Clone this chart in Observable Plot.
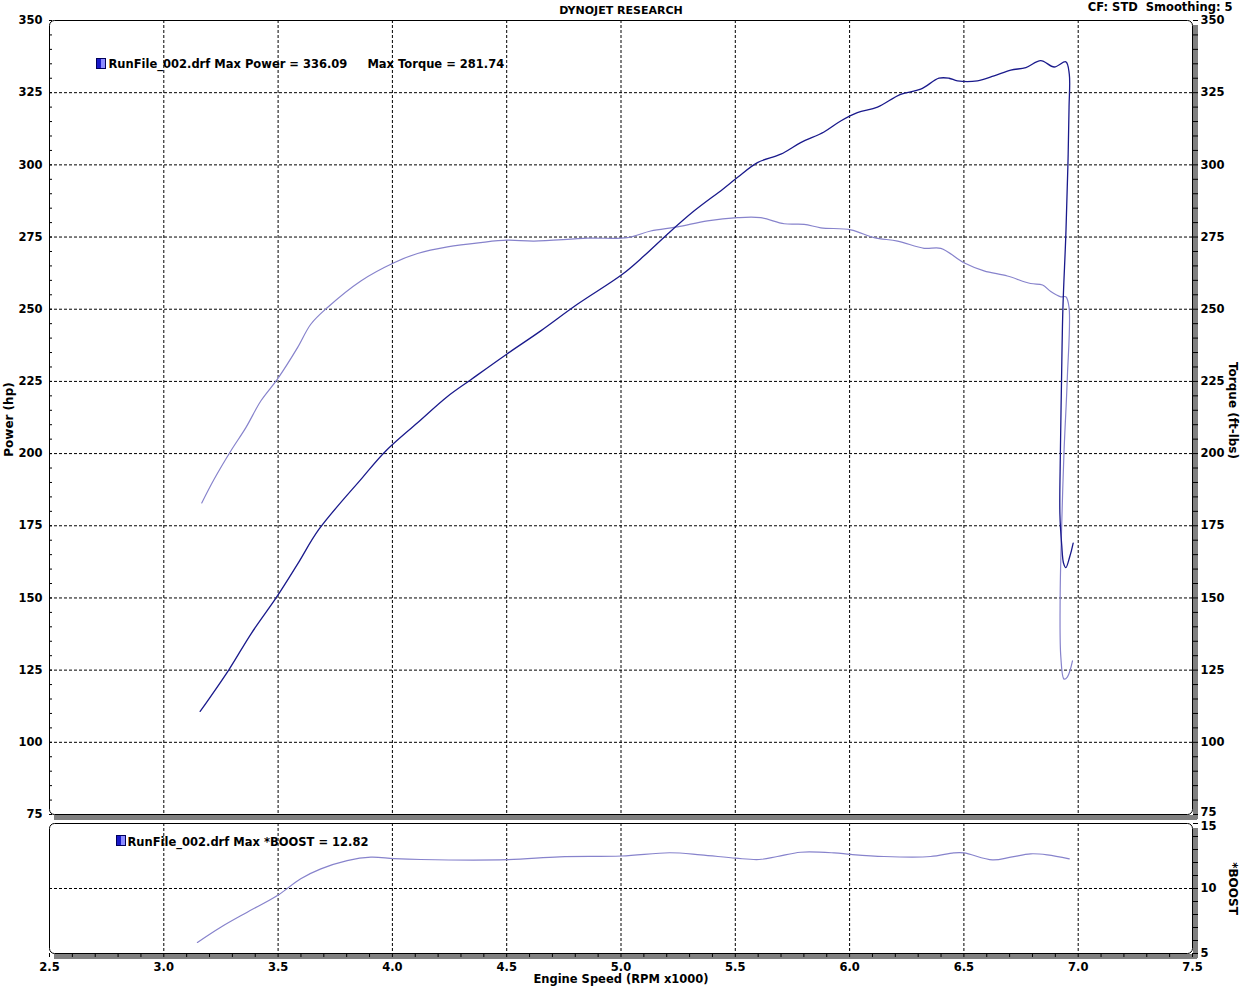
<!DOCTYPE html>
<html>
<head>
<meta charset="utf-8">
<script src="https://cdn.jsdelivr.net/npm/d3@7"></script>
<script src="https://cdn.jsdelivr.net/npm/@observablehq/plot@0.6"></script>
<style>
  body { margin: 0; background: #fff; }
  #wrap { position: relative; width: 1241px; height: 986px; overflow: hidden; }
  #top, #bot { position: absolute; left: 0; }
  #top { top: 0; }
  #bot { top: 818px; }
  svg text { white-space: pre; }
  .icon { position: absolute; width: 8px; height: 9px; border: 1px solid #00005a;
          background: linear-gradient(to right, #1818c8 50%, #8c8cff 50%); }
</style>
</head>
<body>
<div id="wrap">
  <div id="top"></div>
  <div id="bot"></div>
  <div class="icon" style="left:96px;top:58px;"></div>
  <div class="icon" style="left:116px;top:835px;"></div>
</div>
<script>
// ---------- data ----------
const rpmTicks = [2.5, 3.0, 3.5, 4.0, 4.5, 5.0, 5.5, 6.0, 6.5, 7.0, 7.5];
const rpmGrid = [3.0, 3.5, 4.0, 4.5, 5.0, 5.5, 6.0, 6.5, 7.0];
const rpmMinor = d3.range(25, 76).map(d => d / 10);
const powerTicks = [75, 100, 125, 150, 175, 200, 225, 250, 275, 300, 325, 350];
const powerGrid = [100, 125, 150, 175, 200, 225, 250, 275, 300, 325];
const powerMinor = d3.range(75, 351, 5);
const boostTicks = [5, 10, 15];
const boostGrid = [10];
const boostMinor = d3.range(5, 16, 1);

const powerRpm = [3.159, 3.286, 3.381, 3.497, 3.585, 3.679, 3.869, 3.971, 4.110, 4.241, 4.343, 4.503,
  4.649, 4.809, 5.006, 5.101, 5.203, 5.319, 5.444, 5.509, 5.597, 5.699, 5.786, 5.888, 5.961, 6.034,
  6.122, 6.223, 6.311, 6.391, 6.435, 6.472, 6.559, 6.632, 6.705, 6.771, 6.836, 6.895, 6.946, 6.961,
  6.960, 6.955, 6.946, 6.933, 6.927, 6.922, 6.920, 6.928, 6.936, 6.946, 6.962, 6.978];
const powerHp = [110.7, 125.3, 137.5, 150.7, 161.7, 173.8, 191.7, 200.9, 210.7, 219.8, 225.6, 234.6,
  242.5, 251.7, 262.1, 268.5, 276.0, 284.0, 291.5, 295.6, 300.8, 303.7, 307.7, 311.4, 315.2, 318.1,
  320.0, 324.4, 326.2, 330.0, 330.0, 329.1, 329.1, 330.8, 332.8, 333.7, 336.1, 333.9, 335.7, 331.4,
  320.0, 300.0, 276.0, 250.0, 225.0, 200.0, 179.0, 168.2, 162.0, 160.5, 164.0, 169.0];

const torqueRpm = [3.166, 3.220, 3.293, 3.359, 3.425, 3.497, 3.585, 3.643, 3.716, 3.862, 4.007, 4.110,
  4.241, 4.387, 4.503, 4.620, 4.853, 5.028, 5.130, 5.247, 5.378, 5.509, 5.611, 5.714, 5.801, 5.874,
  6.005, 6.107, 6.210, 6.326, 6.399, 6.500, 6.588, 6.690, 6.792, 6.844, 6.880, 6.924, 6.946, 6.960,
  6.952, 6.938, 6.927, 6.921, 6.924, 6.938, 6.953, 6.975];
const torqueLbft = [182.9, 191.1, 200.9, 209.0, 218.3, 225.8, 236.7, 244.8, 250.6, 259.8, 266.1, 269.3,
  271.6, 273.1, 273.9, 273.6, 274.6, 274.8, 277.1, 278.5, 280.6, 281.7, 281.7, 279.6, 279.4, 278.2,
  277.5, 274.8, 273.6, 271.1, 271.1, 266.1, 263.3, 261.5, 258.9, 258.4, 256.1, 254.3, 254.3, 250.6,
  225.4, 200.7, 172.9, 149.7, 129.6, 121.9, 122.7, 128.2];

const boostRpm = [3.147, 3.249, 3.365, 3.497, 3.599, 3.687, 3.802, 3.906, 4.007, 4.124, 4.505, 4.731,
  5.003, 5.213, 5.349, 5.502, 5.604, 5.684, 5.786, 5.932, 6.005, 6.151, 6.354, 6.456, 6.500, 6.625,
  6.705, 6.792, 6.865, 6.961];
const boostPsi = [5.85, 7.02, 8.18, 9.46, 10.75, 11.51, 12.15, 12.41, 12.30, 12.23, 12.22, 12.44,
  12.50, 12.75, 12.59, 12.33, 12.23, 12.46, 12.79, 12.74, 12.62, 12.46, 12.46, 12.74, 12.74, 12.20,
  12.41, 12.67, 12.59, 12.28];

const titleText = "DYNOJET RESEARCH";
const cornerText = "CF: STD  Smoothing: 5";
const legendTop = "RunFile_002.drf Max Power = 336.09     Max Torque = 281.74";
const legendBot = "RunFile_002.drf Max *BOOST = 12.82";

// ---------- tables ----------
const power = powerRpm.map((r, i) => ({rpm: r, v: powerHp[i]}));
const torque = torqueRpm.map((r, i) => ({rpm: r, v: torqueLbft[i]}));
const boost = boostRpm.map((r, i) => ({rpm: r, v: boostPsi[i]}));

const font = "'DejaVu Sans', Verdana, sans-serif";
const baseStyle = {fontFamily: font, fontSize: "11.5px", fontWeight: "bold", background: "transparent", overflow: "visible", color: "#000"};
const dash = {stroke: "#000", strokeDasharray: "3,2", strokeWidth: 1};
const shadow = "#808080";
const powerColor = "#1a1a8c";
const lightColor = "#8783cc";
const blank = () => "";

const topPlot = Plot.plot({
  width: 1241, height: 818,
  marginLeft: 49, marginRight: 49, marginTop: 20, marginBottom: 4,
  style: baseStyle,
  x: {domain: [2.5, 7.5], axis: null},
  y: {domain: [75, 350], axis: null},
  marks: [
    Plot.ruleX(rpmGrid, dash),
    Plot.ruleY(powerGrid, dash),
    Plot.ruleX([7.5], {stroke: shadow, strokeWidth: 5, dx: 3, dy: 5}),
    Plot.ruleY([75], {stroke: shadow, strokeWidth: 5, dx: 5, dy: 3}),
    Plot.frame({stroke: "#000", rx: 5}),
    Plot.axisY(powerMinor, {anchor: "left", tickSize: -3, tickFormat: blank, label: null}),
    Plot.axisY(powerMinor, {anchor: "right", tickSize: 5, tickFormat: blank, label: null}),
    Plot.axisY(powerTicks, {anchor: "left", tickSize: 0, tickPadding: 7, label: null}),
    Plot.axisY(powerTicks.filter(d => d > 75), {anchor: "right", tickSize: 0, tickPadding: 8, label: null}),
    Plot.axisY([75], {anchor: "right", tickSize: 0, tickPadding: 8, label: null, dy: -2}),
    Plot.line(torque, {x: "rpm", y: "v", stroke: lightColor, strokeWidth: 1.2, curve: "catmull-rom"}),
    Plot.line(power, {x: "rpm", y: "v", stroke: powerColor, strokeWidth: 1.3, curve: "catmull-rom"}),
    Plot.text([titleText], {text: d => d, frameAnchor: "top", textAnchor: "middle", dy: -10, lineAnchor: "middle", fontSize: 11}),
    Plot.text([cornerText], {text: d => d, frameAnchor: "top-right", textAnchor: "end", dx: 40, dy: -13, lineAnchor: "middle"}),
    Plot.text([legendTop], {text: d => d, frameAnchor: "top-left", textAnchor: "start", dx: 59, dy: 44, lineAnchor: "middle"}),
    Plot.text(["Power (hp)"], {text: d => d, frameAnchor: "left", textAnchor: "middle", rotate: -90, dx: -40, dy: 2, lineAnchor: "middle", fontSize: 12}),
    Plot.text(["Torque (ft-lbs)"], {text: d => d, frameAnchor: "right", textAnchor: "middle", rotate: 90, dx: 40, dy: -7, lineAnchor: "middle", fontSize: 12})
  ]
});
document.getElementById("top").append(topPlot);

const botPlot = Plot.plot({
  width: 1241, height: 168,
  marginLeft: 49, marginRight: 49, marginTop: 5, marginBottom: 33,
  style: baseStyle,
  x: {domain: [2.5, 7.5], axis: null},
  y: {domain: [5, 15], axis: null},
  marks: [
    Plot.ruleX(rpmGrid, dash),
    Plot.ruleY(boostGrid, dash),
    Plot.ruleX([7.5], {stroke: shadow, strokeWidth: 5, dx: 3, dy: 5}),
    Plot.ruleY([5], {stroke: shadow, strokeWidth: 5, dx: 5, dy: 3}),
    Plot.frame({stroke: "#000", rx: 5}),
    Plot.axisX(rpmMinor, {anchor: "bottom", tickSize: 4, tickFormat: blank, label: null}),
    Plot.axisX(rpmTicks, {anchor: "bottom", tickSize: 0, tickPadding: 9, tickFormat: d3.format(".1f"), label: null}),
    Plot.axisY(boostMinor, {anchor: "right", tickSize: 5, tickFormat: blank, label: null}),
    Plot.axisY(boostTicks.filter(d => d < 15), {anchor: "right", tickSize: 0, tickPadding: 8, label: null}),
    Plot.axisY([15], {anchor: "right", tickSize: 0, tickPadding: 8, label: null, dy: 3}),
    Plot.line(boost, {x: "rpm", y: "v", stroke: lightColor, strokeWidth: 1.2, curve: "catmull-rom"}),
    Plot.text([legendBot], {text: d => d, frameAnchor: "top-left", textAnchor: "start", dx: 78, dy: 19, lineAnchor: "middle"}),
    Plot.text(["Engine Speed (RPM x1000)"], {text: d => d, frameAnchor: "bottom", textAnchor: "middle", dy: 26, lineAnchor: "middle"}),
    Plot.text(["*BOOST"], {text: d => d, frameAnchor: "right", textAnchor: "middle", rotate: 90, dx: 40, lineAnchor: "middle", fontSize: 12})
  ]
});
document.getElementById("bot").append(botPlot);
</script>
</body>
</html>
